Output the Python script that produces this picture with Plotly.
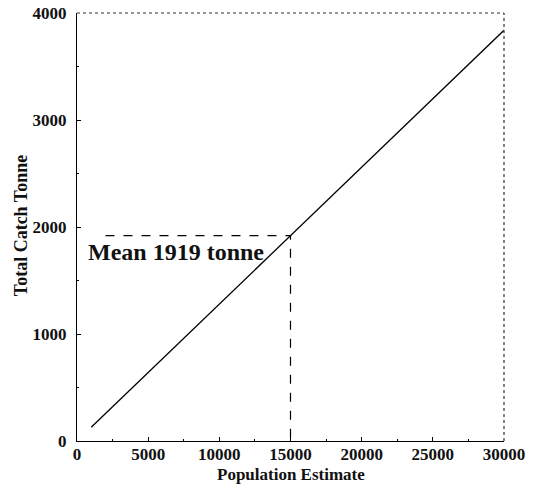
import plotly.graph_objects as go

# Catch model: total catch as a function of population estimate
population = [1000, 30000]
total_catch = [128, 3838]

# Reference mean marker
mean_population = 15000
mean_catch = 1919
guide_start_x = 2000
mean_label = "Mean 1919 tonne"

x_ticks = [0, 5000, 10000, 15000, 20000, 25000, 30000]
y_ticks = [0, 1000, 2000, 3000, 4000]

x_title = "Population Estimate"
y_title = "Total Catch Tonne"

serif = "Liberation Serif, Times New Roman, serif"

fig = go.Figure()

fig.add_trace(go.Scatter(
    x=population, y=total_catch, mode="lines",
    line=dict(color="black", width=1.3), showlegend=False, hoverinfo="skip"))

# Dashed guides to the mean
fig.add_trace(go.Scatter(
    x=[guide_start_x, mean_population, mean_population],
    y=[mean_catch, mean_catch, 0], mode="lines",
    line=dict(color="black", width=1.2, dash="dash"),
    showlegend=False, hoverinfo="skip"))

fig.add_annotation(
    x=620, y=mean_catch - 150, xref="x", yref="y",
    text="<b>" + mean_label + "</b>", showarrow=False,
    xanchor="left", yanchor="middle",
    font=dict(family=serif, size=24, color="#111"))

# Axis titles
fig.add_annotation(
    x=0.5, y=-0.078, xref="paper", yref="paper", text="<b>" + x_title + "</b>",
    showarrow=False, xanchor="center", yanchor="middle",
    font=dict(family=serif, size=17, color="#111"))
fig.add_annotation(
    x=-0.131, y=0.502, xref="paper", yref="paper", text="<b>" + y_title + "</b>",
    showarrow=False, xanchor="center", yanchor="middle", textangle=-90,
    font=dict(family=serif, size=18, color="#111"))

# Dotted top and right frame
fig.add_shape(type="line", xref="paper", yref="paper", x0=0, x1=1, y0=1, y1=1,
              line=dict(color="#333", width=1.2, dash="dot"))
fig.add_shape(type="line", xref="paper", yref="paper", x0=1, x1=1, y0=0, y1=1,
              line=dict(color="#333", width=1.2, dash="dot"))

axis_common = dict(
    showgrid=False, zeroline=False, showline=True, linecolor="black", linewidth=1.3,
    ticks="inside", ticklen=4, tickcolor="black", tickwidth=1, automargin=False,
    tickfont=dict(family=serif, size=17, color="#111"),
)

fig.update_xaxes(
    **axis_common, range=[0, 30000], tickvals=x_ticks,
    ticktext=["<b>%d</b>" % v for v in x_ticks],
    ticklabelstandoff=-3,
    minor=dict(dtick=2500, ticks="inside", ticklen=2, tickcolor="black"))

fig.update_yaxes(
    **axis_common, range=[0, 4000], tickvals=y_ticks,
    ticktext=["<b>%d</b>" % v for v in y_ticks],
    ticklabelstandoff=6,
    minor=dict(dtick=500, ticks="inside", ticklen=2, tickcolor="black"))

fig.update_layout(
    width=537, height=484,
    margin=dict(l=77, r=33, t=13, b=43),
    paper_bgcolor="white", plot_bgcolor="white",
)

fig.write_html("out.html")
